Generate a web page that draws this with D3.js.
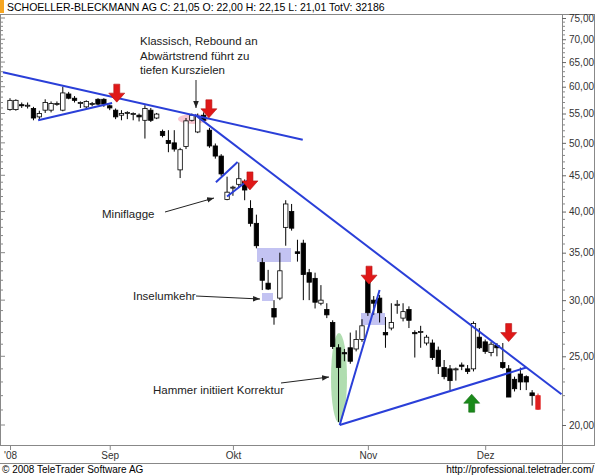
<!DOCTYPE html>
<html><head><meta charset="utf-8">
<script src="https://cdn.jsdelivr.net/npm/d3@7"></script>
<style>body{margin:0;background:#fff}text{font-family:"Liberation Sans",Arial,sans-serif}</style>
</head><body><svg id="c" width="595" height="476"></svg>
<script>
// OHLC per trading day (Aug - Dez 2008)
const opens  = [55.7,55.7,56.6,56.4,55.9,54.4,55.6,55.6,56.7,55.6,58.6,57.8,57.0,56.2,56.7,57.6,57.6,56.4,55.6,54.7,55.2,55.0,54.7,53.8,55.6,54.2,51.9,50.4,50.0,45.8,49.4,53.8,51.8,54.7,52.1,49.5,47.9,41.6,43.2,43.7,44.1,40.4,38.5,33.9,31.7,29.2,30.2,38.0,40.0,35.1,36.1,32.8,32.2,29.7,29.1,27.9,25.7,25.3,25.7,25.6,26.4,32.0,30.0,30.2,27.0,27.4,29.5,28.3,29.1,27.0,27.1,26.1,26.1,25.5,24.1,24.0,24.0,24.3,24.0,24.0,26.6,26.2,25.3,25.9,24.5,24.0,23.2,23.6,23.4,22.2,22.0];
const closes = [57.4,57.4,56.4,56.5,54.2,55.0,57.0,56.8,56.8,58.8,57.8,57.4,57.0,57.2,56.8,56.7,56.7,56.0,54.4,55.0,55.2,55.0,54.4,55.9,53.8,54.9,51.2,49.9,49.0,48.9,53.7,54.7,54.5,53.8,49.5,47.9,45.2,42.6,43.3,44.5,42.9,38.5,35.8,32.0,31.1,28.4,33.0,41.0,37.9,34.9,32.6,31.8,29.8,30.0,28.6,25.8,24.1,25.2,24.6,26.4,27.6,28.8,29.7,28.8,26.8,27.9,29.6,28.9,28.1,26.9,27.1,26.6,24.9,24.2,23.4,23.1,24.0,24.2,23.8,27.8,25.7,25.4,26.0,25.7,24.1,21.9,22.5,23.0,23.0,22.0,21.05];
const highs  = [57.8,57.6,57.0,57.0,56.2,55.5,57.6,57.2,57.2,60.0,59.0,58.2,57.2,57.4,57.1,57.8,57.8,56.6,55.9,55.6,55.4,55.2,55.0,56.5,56.0,55.1,52.2,52.1,52.1,49.2,54.2,55.0,55.0,55.2,52.5,49.9,48.2,44.8,43.5,46.9,44.4,41.5,39.6,34.4,33.1,30.0,35.0,41.5,41.0,36.5,36.5,33.2,32.8,31.5,29.7,28.1,26.0,25.6,27.0,27.2,28.2,32.4,30.4,30.5,28.4,29.7,30.0,29.7,29.4,27.2,27.6,26.8,26.4,25.8,24.7,24.3,24.1,24.5,24.3,28.0,27.4,26.4,26.2,26.1,26.1,24.3,23.4,24.1,23.5,22.4,22.15];
const lows   = [55.5,55.5,56.0,55.9,53.8,53.9,55.1,55.2,56.4,55.4,57.6,57.0,56.0,55.8,56.3,56.5,56.2,55.6,54.0,53.8,54.0,53.8,53.6,50.7,53.5,54.0,50.9,48.5,48.6,44.6,49.0,53.6,51.6,53.5,49.2,47.5,44.9,41.5,42.1,43.3,41.5,38.1,35.5,31.0,31.0,27.7,30.0,35.8,37.6,34.0,30.0,30.0,29.2,29.5,28.3,25.6,20.2,24.6,24.4,25.4,26.2,28.5,28.6,27.9,25.7,27.2,28.7,28.0,27.4,24.9,25.7,25.9,24.7,23.6,23.2,22.4,23.1,23.9,23.6,23.8,25.6,25.2,25.0,25.0,24.0,21.9,22.3,22.4,22.4,21.3,21.01];
const monthLabels = ["'08","Sep","Okt","Nov","Dez"];
const monthIdx = [0,17,38,61,81];
const yTicks = [20,25,30,35,40,45,50,55,60,65,70,75];
// trend lines: [idx0, price0, idx1, price1]
const trendLines = [[-1.2,62.9,49.9,50.5],[4.8,53.8,17.4,56.9],[31.5,54.8,94.0,22.1],
  [35.1,44.0,38.8,47.0],[37.0,42.0,40.9,44.5],[56.2,20.0,63.0,31.0],[56.2,20.0,88.0,24.1]];
const downArrows = [[18.2,60.5],[33.9,57.5],[40.9,45.5],[61.2,33.5],[85.0,27.8]];
const upArrows = [[78.7,20.85]];

const svg = d3.select("#c");
const x = d3.scaleLinear().domain([0, opens.length-1]).range([10, 538]);
const y = d3.scaleLog().domain([20, 75]).range([425, 18]);

// frame
svg.append("rect").attr("x",0.5).attr("y",14.5).attr("width",594).attr("height",431).attr("fill","none").attr("stroke","#888");
svg.append("line").attr("x1",562.5).attr("x2",562.5).attr("y1",14).attr("y2",463).attr("stroke","#888");
svg.append("line").attr("x1",0).attr("x2",595).attr("y1",463.5).attr("y2",463.5).attr("stroke","#888");
svg.append("rect").attr("x",0).attr("y",0).attr("width",4).attr("height",13).attr("fill","#f5a623");
svg.append("text").attr("x",7).attr("y",11).attr("font-size",10.5).text("SCHOELLER-BLECKMANN AG C: 21,05 O: 22,00 H: 22,15 L: 21,01 TotV: 32186");

// y axis
const ya = svg.append("g").attr("transform","translate(562,0)")
  .call(d3.axisRight(y).tickValues(yTicks).tickSize(4).tickFormat(d => d3.format(".2f")(d).replace(".",",")));
ya.select(".domain").remove();
ya.selectAll("text").attr("font-size",10).attr("fill","#333");
ya.selectAll("line").attr("stroke","#666");
const minors = d3.range(20,76).filter(v => v%5);
svg.append("g").selectAll("line").data(minors).join("line")
  .attr("x1",562).attr("x2",565).attr("y1",d=>y(d)).attr("y2",d=>y(d)).attr("stroke","#888");
// left minor ticks
svg.append("g").selectAll("line").data(d3.range(20,76)).join("line")
  .attr("x1",0).attr("x2",d=>d%5?3:5).attr("y1",d=>y(d)).attr("y2",d=>y(d)).attr("stroke","#888");

// x axis
const xa = svg.append("g").attr("transform","translate(0,446)")
  .call(d3.axisBottom(x).tickValues(monthIdx).tickSize(4).tickFormat((d,i)=>monthLabels[i]));
xa.select(".domain").remove();
xa.selectAll("text").attr("font-size",10).attr("fill","#333").attr("dy","0.6em");
xa.selectAll("line").attr("stroke","#888");

svg.append("text").attr("x",2).attr("y",473).attr("font-size",10).text("© 2008 TeleTrader Software AG");
svg.append("text").attr("x",594).attr("y",473).attr("font-size",10).attr("text-anchor","end").text("http://professional.teletrader.com/");

// highlights
svg.append("ellipse").attr("cx",193).attr("cy",119).attr("rx",15).attr("ry",5).attr("fill","#f4a0b0").attr("opacity",0.6);
svg.append("ellipse").attr("cx",339).attr("cy",378).attr("rx",8).attr("ry",45).attr("fill","#8fcf8f").attr("opacity",0.7);
[[257,248,34,14],[262,293,11,8],[361,313,24,12]].forEach(r =>
  svg.append("rect").attr("x",r[0]).attr("y",r[1]).attr("width",r[2]).attr("height",r[3]).attr("fill","#b8b8f0").attr("opacity",0.85));

// candles
const idx = d3.range(opens.length);
const last = opens.length-1;
const g = svg.append("g");
g.selectAll("line").data(idx).join("line")
  .attr("x1",i=>x(i)).attr("x2",i=>x(i)).attr("y1",i=>y(highs[i])).attr("y2",i=>y(lows[i]))
  .attr("stroke",i=>i===last?"#e02020":"#000");
g.selectAll("rect").data(idx).join("rect")
  .attr("x",i=>x(i)-2.2).attr("width",4.4)
  .attr("y",i=>y(Math.max(opens[i],closes[i])))
  .attr("height",i=>Math.max(1,Math.abs(y(opens[i])-y(closes[i]))))
  .attr("fill",i=>i===last?"#e02020":(closes[i]<opens[i]?"#000":"#fff"))
  .attr("stroke",i=>i===last?"#e02020":"#000").attr("stroke-width",0.8);

// trend lines
svg.append("g").selectAll("line").data(trendLines).join("line")
  .attr("x1",d=>x(d[0])).attr("y1",d=>y(d[1])).attr("x2",d=>x(d[2])).attr("y2",d=>y(d[3]))
  .attr("stroke","#2a3fd8").attr("stroke-width",2);

// arrows
function arrow(cx, cy, dir, col){
  const s = dir; // 1 = down (cy is top), -1 = up (cy is bottom)
  const p = [[-3,0],[3,0],[3,9],[8,9],[0,18],[-8,9],[-3,9]].map(q=>[cx+q[0], cy+s*q[1]]);
  svg.append("path").attr("d","M"+p.join("L")+"Z").attr("fill",col).attr("stroke",d3.color(col).darker(0.6)).attr("stroke-width",0.6);
}
downArrows.forEach(a=>arrow(x(a[0]),y(a[1]),1,"#e01818"));
upArrows.forEach(a=>arrow(x(a[0]),y(a[1]),-1,"#1a8a1a"));

// annotations
const ann = svg.append("g").attr("font-size",11.5).attr("fill","#222");
["Klassisch, Rebound an","Abwärtstrend führt zu","tiefen Kurszielen"].forEach((t,i)=>
  ann.append("text").attr("x",140).attr("y",45+i*14.5).text(t));
ann.append("text").attr("x",102).attr("y",218).text("Miniflagge");
ann.append("text").attr("x",133).attr("y",300).text("Inselumkehr");
ann.append("text").attr("x",153).attr("y",394).text("Hammer initiiert Korrektur");
svg.append("defs").append("marker").attr("id","ah").attr("viewBox","0 0 10 10").attr("refX",10).attr("refY",5)
  .attr("markerWidth",7).attr("markerHeight",7).attr("orient","auto")
  .append("path").attr("d","M0,1L10,5L0,9Z").attr("fill","#222");
[[196,80,196,108],[165,212,214,198],[196,296,260,299],[281,383,329,377]].forEach(l=>
  svg.append("line").attr("x1",l[0]).attr("y1",l[1]).attr("x2",l[2]).attr("y2",l[3])
    .attr("stroke","#222").attr("marker-end","url(#ah)"));
</script></body></html>
